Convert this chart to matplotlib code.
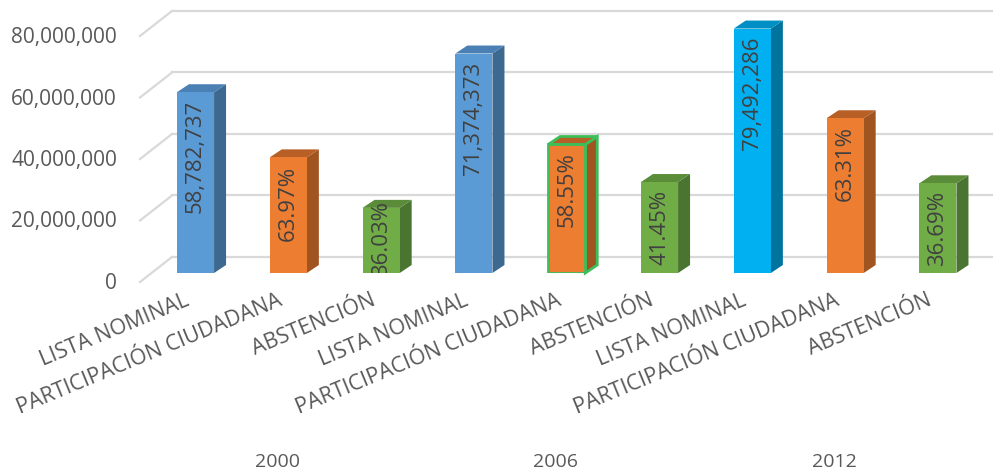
import matplotlib
matplotlib.use("Agg")
import matplotlib.pyplot as plt
from matplotlib.patches import Polygon
from matplotlib.lines import Line2D
import matplotlib.transforms as mtransforms

plt.rcParams['font.family'] = ['Open Sans', 'DejaVu Sans']

# ---------------- data ----------------
categories = ["LISTA NOMINAL", "PARTICIPACIÓN CIUDADANA", "ABSTENCIÓN"] * 3
years = ["2000", "2006", "2012"]
values = [58782737, 37601618, 21181119,
          71374373, 41791322, 29583051,
          79492286, 50323153, 29169133]
value_labels = ["58,782,737", "63.97%", "36.03%",
                "71,374,373", "58.55%", "41.45%",
                "79,492,286", "63.31%", "36.69%"]
yticks = [0, 20000000, 40000000, 60000000, 80000000]
ytick_labels = ["0", "20,000,000", "40,000,000", "60,000,000", "80,000,000"]

# ---------------- styles ----------------
front_colors = ["#5B9BD5", "#ED7D31", "#70AD47",
                "#5B9BD5", "#ED7D31", "#70AD47",
                "#00B0F0", "#ED7D31", "#70AD47"]
side_colors = ["#3D6890", "#A0541F", "#4A7530",
               "#3D6890", "#A0541F", "#4A7530",
               "#00739E", "#A0541F", "#4A7530"]
top_colors = ["#4A80B4", "#B85F26", "#5A8C39",
              "#4A80B4", "#B85F26", "#5A8C39",
              "#008FC4", "#B85F26", "#5A8C39"]
edge_colors = ["none", "none", "none", "none", "#3CBE5A", "none", "none", "none", "none"]
text_color = "#404040"
axis_text_color = "#595959"
grid_color = "#D9D9D9"

W, H, DPI = 993, 475, 100
fig = plt.figure(figsize=(W / DPI, H / DPI), dpi=DPI)
fig.patch.set_facecolor("white")

ax = fig.add_axes([140 / W, (H - 273) / H, (960 - 140) / W, 246 / H])
ax.set_xlim(-0.598, 8.238)
ax.set_ylim(0, 80000000)
ax.set_frame_on(False)

# pixels per data unit
p0 = ax.transData.transform((0, 0))
p1 = ax.transData.transform((1, 1))
ux = p1[0] - p0[0]
uy = p1[1] - p0[1]
xl0, xl1 = ax.get_xlim()

# back wall gridlines and left floor/wall slants
for t in yticks:
    ax.add_line(Line2D([xl0 + 32 / ux, xl1 + 34 / ux], [t + 16 / uy, t + 16 / uy],
                       color=grid_color, lw=1.6, zorder=1, clip_on=False))
    ax.add_line(Line2D([xl0, xl0 + 32 / ux], [t - 9 / uy, t + 16 / uy],
                       color=grid_color, lw=1.6, zorder=1, clip_on=False))

x = list(range(len(values)))
bw = 0.4
dx = 12 / ux
dy = 8 / uy
ax.bar(x, values, width=bw, color=front_colors, edgecolor=edge_colors,
       linewidth=2, zorder=3)
for i, v in enumerate(values):
    xl = i - bw / 2
    xr = i + bw / 2
    ec = edge_colors[i]
    side = Polygon([(xr, 0), (xr, v), (xr + dx, v + dy), (xr + dx, dy)],
                   closed=True, facecolor=side_colors[i], edgecolor=ec,
                   linewidth=2 if ec != "none" else 0, zorder=2.9, clip_on=False)
    top = Polygon([(xl, v), (xr, v), (xr + dx, v + dy), (xl + dx, v + dy)],
                  closed=True, facecolor=top_colors[i], edgecolor=ec,
                  linewidth=2 if ec != "none" else 0, zorder=2.9, clip_on=False)
    ax.add_patch(side)
    ax.add_patch(top)

# data labels inside the bars
PT = 72 / DPI
for i, (v, lab) in enumerate(zip(values, value_labels)):
    if v < 25000000:
        ax.annotate(lab, xy=(i, v / 2), xytext=(0, 2 * PT), textcoords="offset points",
                    rotation=90, ha="center", va="center", fontsize=16,
                    color=text_color, zorder=5, annotation_clip=False, clip_on=True)
    else:
        ax.annotate(lab, xy=(i, v), xytext=(0, -8 * PT), textcoords="offset points",
                    rotation=90, ha="center", va="top", fontsize=16,
                    color=text_color, zorder=5)

# y tick labels (front of floor)
ax.set_yticks(yticks, ytick_labels)
ax.tick_params(axis="y", length=0, pad=23 * PT, labelsize=15, labelcolor=axis_text_color)
off_y = mtransforms.ScaledTranslation(0, -8 / DPI, fig.dpi_scale_trans)
for lab in ax.get_yticklabels():
    lab.set_transform(lab.get_transform() + off_y)

# category tick labels
ax.set_xticks(x, categories)
ax.tick_params(axis="x", length=0, pad=17 * PT, labelsize=15.5, labelcolor=axis_text_color)
off_x = mtransforms.ScaledTranslation(-11 / DPI, 0, fig.dpi_scale_trans)
for lab in ax.get_xticklabels():
    lab.set_rotation(22.5)
    lab.set_ha("right")
    lab.set_va("top")
    lab.set_rotation_mode("anchor")
    lab.set_transform(lab.get_transform() + off_x)

# year group labels
for g, yr in enumerate(years):
    ax.annotate(yr, xy=(3 * g + 1, 0), xytext=(-11 * PT, -(462 - 273) * PT),
                textcoords="offset points", ha="center", va="center",
                fontsize=14, color=axis_text_color, annotation_clip=False)

fig.savefig("out.png", dpi=DPI)
